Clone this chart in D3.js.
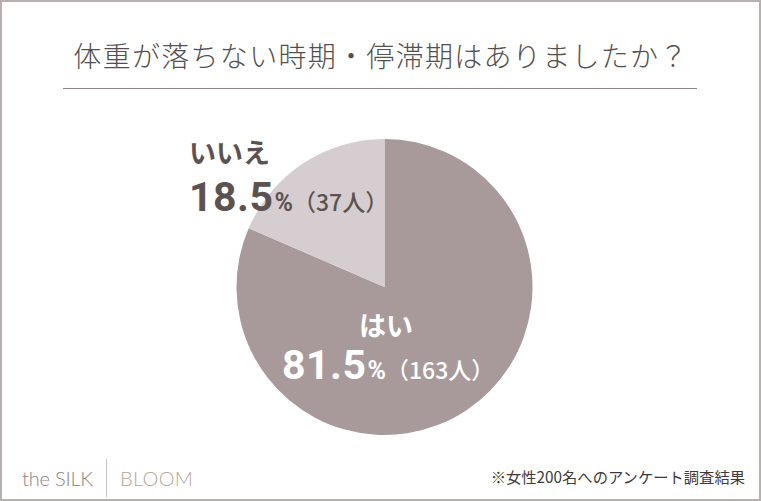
<!DOCTYPE html>
<html><head><meta charset="utf-8">
<script src="https://cdn.jsdelivr.net/npm/d3@7"></script>
<style>body{margin:0;background:#fff}svg{display:block}</style>
</head><body><svg id="c" width="761" height="501"></svg>
<script>
const title = "体重が落ちない時期・停滞期はありましたか？";
const categories = ["はい", "いいえ"];
const percents = [81.5, 18.5];
const counts = [163, 37];
const colors = ["#a89a9a", "#d5cdcf"];
const note = "※女性200名へのアンケート調査結果";

const svg = d3.select("#c");
const W = 761, H = 501;
const JP = "'Noto Sans CJK JP','Noto Sans',sans-serif";
const NUM = "Roboto,'Noto Sans',sans-serif";

svg.append("rect").attr("x",1).attr("y",1).attr("width",W-2).attr("height",H-2)
  .attr("fill","#fff").attr("stroke","#b9afaf").attr("stroke-width",2);

svg.append("text").attr("x",381).attr("y",67).attr("text-anchor","middle")
  .attr("font-family",JP).attr("font-weight",300).attr("font-size",28)
  .attr("fill","#555050").attr("letter-spacing",1.3).text(title);
svg.append("line").attr("x1",63).attr("x2",697).attr("y1",88.5).attr("y2",88.5)
  .attr("stroke","#8f8787").attr("stroke-width",1.2);

const cx = 384.5, cy = 287, r = 148;
const pie = d3.pie().sort(null).value(d => d)(percents);
const arc = d3.arc().innerRadius(0).outerRadius(r);
const g = svg.append("g").attr("transform",`translate(${cx},${cy})`);
g.selectAll("path").data(pie).join("path").attr("d",arc).attr("fill",(d,i)=>colors[i]);

function label(x, yName, yVal, i, fill, anchor, xName){
  svg.append("text").attr("x",xName).attr("y",yName).attr("font-family",JP)
    .attr("text-anchor",anchor)
    .attr("font-weight",700).attr("font-size",27).attr("fill",fill).text(categories[i]);
  const t = svg.append("text").attr("x",x).attr("y",yVal).attr("font-family",NUM)
    .attr("font-weight",700).attr("fill",fill).attr("font-size",23);
  t.append("tspan").attr("font-size",41).attr("letter-spacing",0.5).text(d3.format(".1f")(percents[i]));
  t.append("tspan").attr("font-size",25).attr("dx",1).text("%");
  t.append("tspan").attr("font-family",JP).attr("font-size",23).attr("font-weight",500).text(`（${counts[i]}人）`);
}
label(189, 163, 211, 1, "#5c5252", "start", 189);
label(282, 336, 379, 0, "#ffffff", "middle", 386);

// footer logo
svg.append("text").attr("x",22).attr("y",486).attr("font-family","Lato,'Open Sans',sans-serif")
  .attr("font-weight",300).attr("font-size",20).attr("fill","#8c8585").attr("letter-spacing",-0.2).text("the SILK");
svg.append("line").attr("x1",106.5).attr("x2",106.5).attr("y1",459).attr("y2",497)
  .attr("stroke","#c9c3c3").attr("stroke-width",1);
svg.append("text").attr("x",120).attr("y",486).attr("font-family","Lato,'Open Sans',sans-serif")
  .attr("font-weight",300).attr("font-size",20).attr("fill","#b5a592").attr("letter-spacing",0.3).text("BLOOM");

svg.append("text").attr("x",745).attr("y",483).attr("text-anchor","end")
  .attr("font-family",JP).attr("font-size",15.3).attr("fill","#3f3a3a").text(note);
</script></body></html>
